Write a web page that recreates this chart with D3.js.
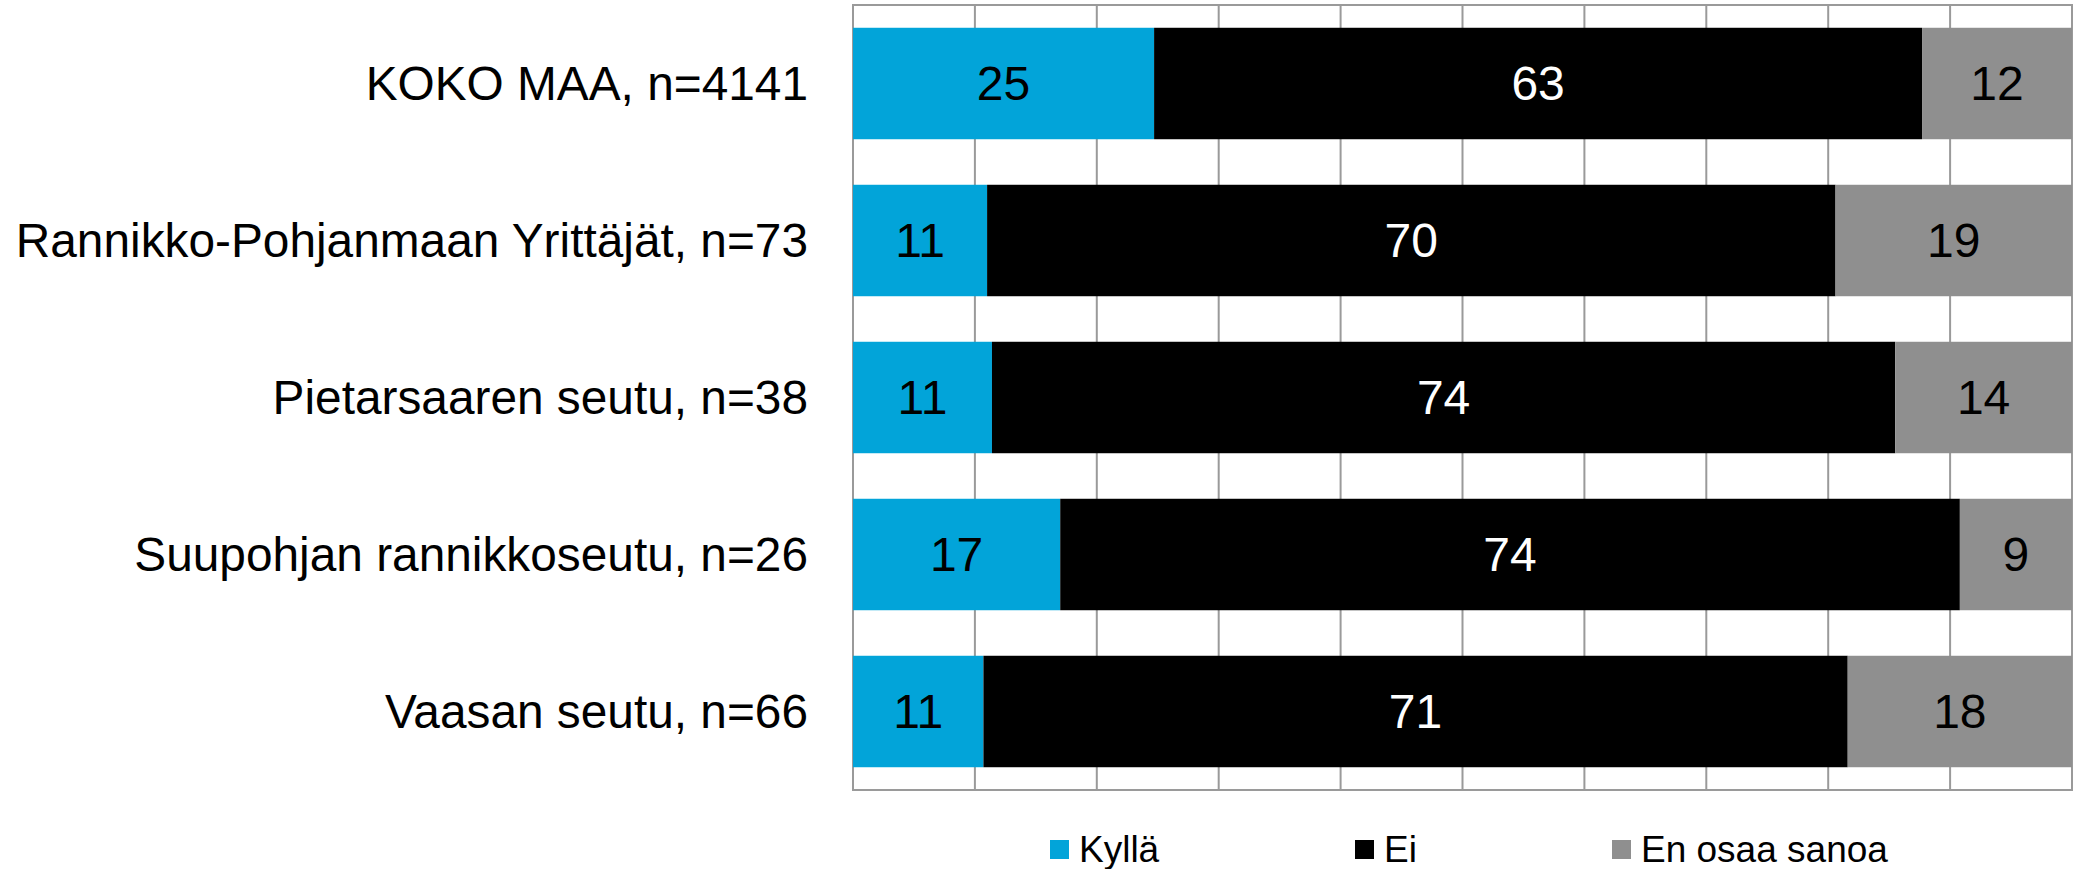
<!DOCTYPE html>
<html>
<head>
<meta charset="utf-8">
<script src="https://cdn.jsdelivr.net/npm/d3@7"></script>
<style>
  body { margin: 0; background: #fff; }
  svg { display: block; font-family: "Liberation Sans", Arial, sans-serif; }
</style>
</head>
<body>
<svg id="chart"></svg>
<script>
// data
const categories = [
  "KOKO MAA, n=4141",
  "Rannikko-Pohjanmaan Yrittäjät, n=73",
  "Pietarsaaren seutu, n=38",
  "Suupohjan rannikkoseutu, n=26",
  "Vaasan seutu, n=66"
];
const seriesNames = ["Kyllä", "Ei", "En osaa sanoa"];
const kylla = [24.7, 11.0, 11.4, 17.0, 10.7];
const ei = [63.0, 69.6, 74.1, 73.8, 70.9];
const eos = [12.3, 19.4, 14.5, 9.2, 18.4];
const kyllaLabels = ["25", "11", "11", "17", "11"];
const eiLabels = ["63", "70", "74", "74", "71"];
const eosLabels = ["12", "19", "14", "9", "18"];
const xTicks = [0, 10, 20, 30, 40, 50, 60, 70, 80, 90, 100];

const colors = ["#02a4d9", "#000000", "#8f8f8f"];
const labelColors = ["#000", "#fff", "#000"];

// layout
const W = 2075, H = 869;
const margin = { top: 5, right: 3, bottom: 79, left: 853 };

const svg = d3.select("#chart").attr("width", W).attr("height", H);

const x = d3.scaleLinear().domain([0, 100]).range([margin.left, W - margin.right]);
const y = d3.scaleBand()
  .domain(categories)
  .range([margin.top, H - margin.bottom])
  .paddingInner(0.29)
  .paddingOuter(0.145);

// grid
svg.append("g")
  .selectAll("line")
  .data(xTicks)
  .enter()
  .append("line")
  .attr("x1", (d) => x(d))
  .attr("x2", (d) => x(d))
  .attr("y1", margin.top)
  .attr("y2", H - margin.bottom)
  .attr("stroke", "#9a9a9a")
  .attr("stroke-width", 2);

svg.append("rect")
  .attr("x", x(0))
  .attr("y", margin.top)
  .attr("width", x(100) - x(0))
  .attr("height", H - margin.bottom - margin.top)
  .attr("fill", "none")
  .attr("stroke", "#9a9a9a")
  .attr("stroke-width", 2);

// stacked rows
const rows = categories.map((c, i) => ({
  cat: c,
  values: [kylla[i], ei[i], eos[i]],
  labels: [kyllaLabels[i], eiLabels[i], eosLabels[i]]
}));
const stack = d3.stack().keys([0, 1, 2]).value((d, k) => d.values[k]);
const series = stack(rows);

const layers = svg.append("g")
  .selectAll("g")
  .data(series)
  .enter()
  .append("g")
  .attr("fill", (s) => colors[s.key]);

layers.selectAll("rect")
  .data((s) => s)
  .enter()
  .append("rect")
  .attr("x", (d) => x(d[0]))
  .attr("y", (d) => y(d.data.cat))
  .attr("width", (d) => x(d[1]) - x(d[0]))
  .attr("height", y.bandwidth());

layers.selectAll("text")
  .data((s) => s.map((d) => ({ d: d, k: s.key })))
  .enter()
  .append("text")
  .attr("x", (o) => (x(o.d[0]) + x(o.d[1])) / 2)
  .attr("y", (o) => y(o.d.data.cat) + y.bandwidth() / 2)
  .attr("dy", "0.35em")
  .attr("text-anchor", "middle")
  .attr("font-size", 48)
  .attr("fill", (o) => labelColors[o.k])
  .text((o) => o.d.data.labels[o.k]);

// y axis labels
svg.append("g")
  .selectAll("text")
  .data(categories)
  .enter()
  .append("text")
  .attr("x", margin.left - 45)
  .attr("y", (d) => y(d) + y.bandwidth() / 2)
  .attr("dy", "0.35em")
  .attr("text-anchor", "end")
  .attr("font-size", 47.8)
  .attr("fill", "#000")
  .text((d) => d);

// legend
const legendX = [1050, 1355, 1612];
const legend = svg.append("g")
  .selectAll("g")
  .data(seriesNames)
  .enter()
  .append("g")
  .attr("transform", (d, i) => "translate(" + legendX[i] + ",840)");
legend.append("rect")
  .attr("width", 19)
  .attr("height", 19)
  .attr("fill", (d, i) => colors[i]);
legend.append("text")
  .attr("x", 29)
  .attr("y", 22)
  .attr("font-size", 37)
  .attr("fill", "#000")
  .text((d) => d);
</script>
</body>
</html>
